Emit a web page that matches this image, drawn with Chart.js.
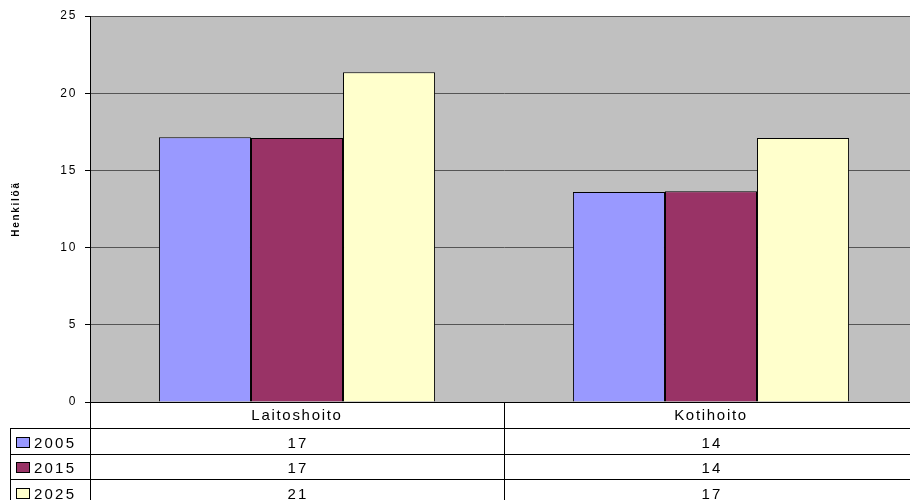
<!DOCTYPE html>
<html><head><meta charset="utf-8">
<script src="https://cdn.jsdelivr.net/npm/chart.js@4"></script>
<style>
html,body{margin:0;padding:0;background:#fff;overflow:hidden;width:910px;height:500px}
#wrap{width:928px;height:500px;position:relative}
</style></head>
<body><div id="wrap"><canvas id="c"></canvas></div>
<script>
const categories = ['Laitoshoito', 'Kotihoito'];
const seriesLabels = ['2005', '2015', '2025'];
const values2005 = [17.15, 13.6];
const values2015 = [17.1, 13.65];
const values2025 = [21.35, 17.1];
const yTicks = [0, 5, 10, 15, 20, 25];
const yTitle = 'Henkilöä';
const seriesColors = ['#9999FF', '#993366', '#FFFFCC'];

const allValues = [values2005, values2015, values2025];
const FONT = '"Liberation Sans", Arial, sans-serif';

const spacingPlugin = {
  id: 'spacing',
  beforeDraw(chart) {
    const ctx = chart.ctx, a = chart.chartArea;
    ctx.letterSpacing = '1.7px';
    ctx.save();
    ctx.fillStyle = '#C0C0C0';
    ctx.fillRect(a.left, a.top, a.right - a.left, a.bottom - a.top);
    ctx.restore();
  },
  afterDatasetsDraw(chart) {
    chart.ctx.letterSpacing = '2.2px';
  }
};

const tablePlugin = {
  id: 'dataTable',
  afterDraw(chart) {
    const ctx = chart.ctx, a = chart.chartArea, xs = chart.scales.x;
    const W = 910;
    const catW = (a.right - a.left) / categories.length;
    const headerH = 26, rowH = 25.5;
    const rows = [a.bottom, a.bottom + headerH];
    for (let i = 1; i <= seriesLabels.length; i++) rows.push(a.bottom + headerH + rowH * i);
    const tableLeft = 10;
    ctx.save();
    ctx.letterSpacing = '2.2px';
    ctx.strokeStyle = '#000';
    ctx.lineWidth = 1;
    ctx.beginPath();
    for (let i = 1; i < rows.length - 1; i++) {
      const y = Math.round(rows[i]) + 0.5;
      ctx.moveTo(tableLeft, y); ctx.lineTo(W, y);
    }
    ctx.moveTo(tableLeft + 0.5, Math.round(rows[1])); ctx.lineTo(tableLeft + 0.5, 500);
    for (let c = 0; c < categories.length; c++) {
      const x = Math.round(a.left + catW * c) + 0.5;
      ctx.moveTo(x, a.bottom); ctx.lineTo(x, 500);
    }
    ctx.stroke();

    ctx.font = '15px ' + FONT;
    ctx.textBaseline = 'alphabetic';
    for (let s = 0; s < seriesLabels.length; s++) {
      const mid = (rows[s + 1] + rows[s + 2]) / 2;
      const base = mid + 7;
      const by = Math.round(base) - 10.5;
      ctx.fillStyle = seriesColors[s];
      ctx.fillRect(16.5, by, 13, 10);
      ctx.strokeStyle = '#000';
      ctx.strokeRect(16.5, by, 13, 10);
      ctx.fillStyle = '#000';
      ctx.textAlign = 'left';
      ctx.fillText(seriesLabels[s], 34, base);
      ctx.textAlign = 'center';
      for (let c = 0; c < categories.length; c++) {
        ctx.fillText(String(Math.round(allValues[s][c])), xs.getPixelForValue(c) + 1, base);
      }
    }
    ctx.restore();
  }
};

new Chart(document.getElementById('c'), {
  type: 'bar',
  data: {
    labels: categories,
    datasets: seriesLabels.map((lab, i) => ({
      label: lab,
      data: allValues[i],
      backgroundColor: seriesColors[i],
      borderColor: '#000',
      borderWidth: 1,
      borderSkipped: 'bottom',
      categoryPercentage: 0.667,
      barPercentage: 1.0
    }))
  },
  options: {
    responsive: true,
    maintainAspectRatio: false,
    animation: false,
    layout: { padding: { top: 16, right: 10, left: 0, bottom: 0 } },
    plugins: { legend: { display: false }, tooltip: { enabled: false } },
    scales: {
      x: {
        z: 1,
        grid: { display: false, drawTicks: false },
        border: { display: true, color: '#000', width: 1 },
        ticks: { color: '#000', font: { family: FONT, size: 15 }, padding: 5, maxRotation: 0 },
        afterFit(s) { s.height = 98; }
      },
      y: {
        min: 0, max: 25,
        afterBuildTicks(s) { s.ticks = yTicks.map(v => ({ value: v })); },
        grid: { color: '#555555', lineWidth: 1, tickLength: 5, tickColor: '#000' },
        border: { display: true, color: '#000', width: 1 },
        ticks: { color: '#000', font: { family: FONT, size: 12 }, padding: 8 },
        title: { display: true, text: yTitle, color: '#000', font: { family: FONT, size: 10, weight: 'bold' }, padding: { top: 10, bottom: 0 } },
        afterFit(s) { s.width = 90; }
      }
    }
  },
  plugins: [spacingPlugin, tablePlugin]
});
</script>
</body></html>
